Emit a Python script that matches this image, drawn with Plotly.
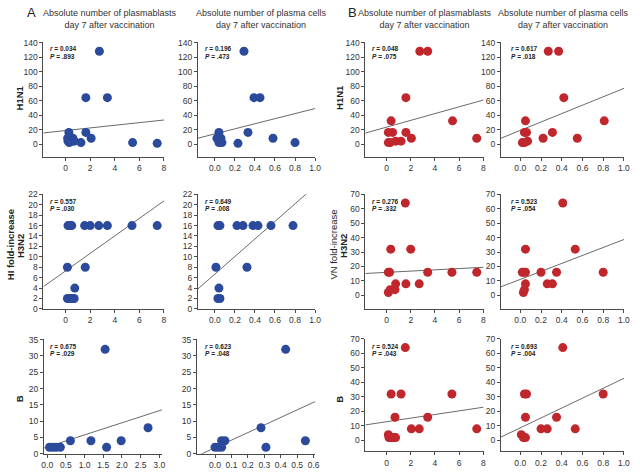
import plotly.graph_objects as go

W, H = 640, 473

# ---------------- DATA ----------------
col_titles = ["Absolute number of plasmablasts<br>day 7 after vaccination",
              "Absolute number of plasma cells<br>day 7 after vaccination",
              "Absolute number of plasmablasts<br>day 7 after vaccination",
              "Absolute number of plasma cells<br>day 7 after vaccination"]
panel_letters = ["A", "B"]

# tick values
ticks_plasmablasts = [0, 2, 4, 6, 8]
ticks_plasma_cells = [0.0, 0.2, 0.4, 0.6, 0.8, 1.0]
ticks_b_plasmablasts_hi = [0.0, 0.5, 1.0, 1.5, 2.0, 2.5, 3.0]
ticks_b_plasma_cells_hi = [0.0, 0.1, 0.2, 0.3, 0.4, 0.5, 0.6]
ticks_h1n1 = [0, 20, 40, 60, 80, 100, 120, 140]
ticks_h3n2_hi = [0, 2, 4, 6, 8, 10, 12, 14, 16, 18, 20, 22]
ticks_b_hi = [0, 5, 10, 15, 20, 25, 30, 35]
ticks_vn = [0, 10, 20, 30, 40, 50, 60, 70]

# A (HI) - plasmablasts
a_h1n1_pb_x = [2.75, 1.65, 3.4, 0.27, 1.65, 2.08, 0.17, 0.2, 0.3, 0.4, 0.5, 0.6, 0.7, 1.25, 5.45, 7.45]
a_h1n1_pb_y = [128, 64, 64, 16, 16, 8, 8, 4, 2, 8, 4, 8, 4, 2, 2, 1]
a_h3n2_pb_x = [0.2, 0.35, 0.5, 1.55, 2.0, 2.7, 3.4, 5.4, 7.45, 0.15, 1.6, 0.75, 0.15, 0.3, 0.45, 0.6, 0.7]
a_h3n2_pb_y = [16, 16, 16, 16, 16, 16, 16, 16, 16, 8, 8, 4, 2, 2, 2, 2, 2]
a_b_pb_x = [1.55, 2.7, 0.62, 1.17, 1.98, 1.59, 0.06, 0.15, 0.24, 0.35]
a_b_pb_y = [32, 8, 4, 4, 4, 2, 2, 2, 2, 2]
# A (HI) - plasma cells
a_h1n1_pc_x = [0.29, 0.39, 0.45, 0.04, 0.33, 0.58, 0.02, 0.06, 0.04, 0.07, 0.23, 0.8]
a_h1n1_pc_y = [128, 64, 64, 16, 16, 8, 8, 8, 2, 2, 1, 2]
a_h3n2_pc_x = [0.03, 0.05, 0.22, 0.28, 0.38, 0.43, 0.56, 0.78, 0.01, 0.32, 0.04, 0.03, 0.05]
a_h3n2_pc_y = [16, 16, 16, 16, 16, 16, 16, 16, 8, 8, 4, 2, 2]
a_b_pc_x = [0.43, 0.28, 0.55, 0.31, 0.04, 0.06, 0.0, 0.02, 0.04]
a_b_pc_y = [32, 8, 4, 2, 4, 4, 2, 2, 2]
# B (VN) - plasmablasts
b_h1n1_pb_x = [2.75, 3.4, 1.6, 0.38, 5.45, 0.15, 0.5, 1.6, 2.05, 7.45, 0.15, 0.3, 0.75, 1.2]
b_h1n1_pb_y = [128, 128, 64, 32, 32, 16, 16, 16, 8, 8, 2, 2, 4, 4]
b_h3n2_pb_x = [1.55, 0.35, 2.0, 0.15, 0.25, 3.4, 5.4, 7.45, 0.75, 1.6, 2.7, 0.7, 0.3, 0.15]
b_h3n2_pb_y = [64, 32, 32, 16, 16, 16, 16, 16, 8, 8, 8, 4, 4, 2]
b_b_pb_x = [1.55, 0.38, 1.2, 5.4, 0.7, 3.4, 2.05, 2.7, 7.45, 0.15, 0.2, 0.3, 0.45, 0.6, 0.75]
b_b_pb_y = [64, 32, 32, 32, 16, 16, 8, 8, 8, 4, 2, 2, 2, 2, 2]
# B (VN) - plasma cells
b_h1n1_pc_x = [0.27, 0.37, 0.42, 0.05, 0.04, 0.06, 0.31, 0.22, 0.55, 0.81, 0.02, 0.04, 0.07]
b_h1n1_pc_y = [128, 128, 64, 32, 16, 16, 16, 8, 8, 32, 2, 2, 4]
b_h3n2_pc_x = [0.41, 0.05, 0.53, 0.02, 0.03, 0.05, 0.2, 0.35, 0.8, 0.26, 0.31, 0.05, 0.04, 0.03]
b_h3n2_pc_y = [64, 32, 32, 16, 16, 16, 16, 16, 16, 8, 8, 8, 4, 2]
b_b_pc_x = [0.41, 0.04, 0.06, 0.8, 0.05, 0.35, 0.2, 0.26, 0.53, 0.01, 0.03, 0.05]
b_b_pc_y = [64, 32, 32, 32, 16, 16, 8, 8, 8, 4, 2, 2]

# regression lines (intercept, slope), row-major
fit_intercepts = [18.6, 14.0, 23.3, 18.8,
                  7.3, 6.7, 15.95, 11.1,
                  2.1, 1.86, 12.9, 8.7]
fit_slopes = [1.82, 35.0, 4.68, 58.0,
              1.68, 16.85, 0.44, 27.6,
              3.7, 23.2, 1.25, 34.1]
r_values = ["0.034", "0.196", "0.048", "0.617",
            "0.557", "0.649", "0.276", "0.523",
            "0.675", "0.623", "0.524", "0.693"]
p_values = [".893", ".473", ".075", ".018",
            ".030", ".008", ".332", ".054",
            ".029", ".048", ".043", ".004"]

panel_x = [a_h1n1_pb_x, a_h1n1_pc_x, b_h1n1_pb_x, b_h1n1_pc_x,
           a_h3n2_pb_x, a_h3n2_pc_x, b_h3n2_pb_x, b_h3n2_pc_x,
           a_b_pb_x, a_b_pc_x, b_b_pb_x, b_b_pc_x]
panel_y = [a_h1n1_pb_y, a_h1n1_pc_y, b_h1n1_pb_y, b_h1n1_pc_y,
           a_h3n2_pb_y, a_h3n2_pc_y, b_h3n2_pb_y, b_h3n2_pc_y,
           a_b_pb_y, a_b_pc_y, b_b_pb_y, b_b_pc_y]

# ---------------- LAYOUT / STYLE ----------------
BLUE = "#2c4a9c"
RED = "#c0272d"
AXC = "#4a4a4a"
TXT = "#333333"
FONT = "Arial, Liberation Sans, sans-serif"
TICKFS = 8.5

def px(x):
    return x / W

def py(y):
    return 1 - y / H

xcfg = {
    (0, 0): ([41, 163.5], [-1.8, 8.02], ticks_plasmablasts, ""),
    (0, 1): ([197.7, 316.7], [-0.17, 1.002], ticks_plasma_cells, ".1f"),
    (0, 2): ([367.5, 487.5], [-1.75, 8.02], ticks_plasmablasts, ""),
    (0, 3): ([505, 630], [-0.187, 1.002], ticks_plasma_cells, ".1f"),
    (2, 0): ([41.5, 161.5], [-0.09, 3.08], ticks_b_plasmablasts_hi, ".1f"),
    (2, 1): ([196.7, 316.7], [-0.11, 0.61], ticks_b_plasma_cells_hi, ".1f"),
}
ycfg = {
    0: {c: ([38.3, 155], [-17.5, 140.1], ticks_h1n1) for c in range(4)},
    1: {0: ([193.3, 310.5], [0, 22.02], ticks_h3n2_hi), 1: ([193.3, 310.5], [0, 22.02], ticks_h3n2_hi),
        2: ([193.3, 310.7], [-9.5, 70.05], ticks_vn), 3: ([193.3, 310.7], [-9.5, 70.05], ticks_vn)},
    2: {0: ([341.7, 458.5], [0, 35.03], ticks_b_hi), 1: ([341.7, 458.5], [0, 35.03], ticks_b_hi),
        2: ([341, 456], [-7.5, 70.05], ticks_vn), 3: ([341, 456], [-7.5, 70.05], ticks_vn)},
}
col_r_x = [45.5, 203, 372, 513.5]
row_r_y = [(44.3, 52.3), (200.7, 207.5), (349, 356)]

fig = go.Figure()
layout = dict(width=W, height=H, margin=dict(l=0, r=0, t=0, b=0),
              paper_bgcolor="white", plot_bgcolor="white", showlegend=False,
              font=dict(family=FONT, size=9, color=TXT))
annotations = []

for row in range(3):
    for col in range(4):
        i = row * 4 + col
        n = i + 1
        xa = "xaxis" if n == 1 else f"xaxis{n}"
        ya = "yaxis" if n == 1 else f"yaxis{n}"
        xr_ = "x" if n == 1 else f"x{n}"
        yr_ = "y" if n == 1 else f"y{n}"
        xd, xrng, xtv, xfmt = xcfg.get((row, col), xcfg[(0, col)])
        yd, yrng, ytv = ycfg[row][col]
        layout[xa] = dict(domain=[px(xd[0]), px(xd[1])], range=xrng, anchor=yr_,
                          tickmode="array", tickvals=xtv, tickformat=xfmt, tickangle=0,
                          showline=True, linecolor=AXC, linewidth=1, ticks="outside",
                          ticklen=3, tickcolor=AXC, showgrid=False, zeroline=False,
                          tickfont=dict(size=TICKFS, color=TXT, family=FONT))
        layout[ya] = dict(domain=[py(yd[1]), py(yd[0])], range=yrng, anchor=xr_,
                          tickmode="array", tickvals=ytv, tickangle=0, showline=True,
                          linecolor=AXC, linewidth=1, ticks="outside", ticklen=3,
                          tickcolor=AXC, showgrid=False, zeroline=False,
                          tickfont=dict(size=TICKFS, color=TXT, family=FONT))
        color = BLUE if col < 2 else RED
        lx = [xrng[0], xrng[1]]
        ly = [fit_intercepts[i] + fit_slopes[i] * v for v in lx]
        fig.add_trace(go.Scatter(x=lx, y=ly, mode="lines", xaxis=xr_, yaxis=yr_,
                                 line=dict(color="#6a6a6a", width=1),
                                 hoverinfo="skip"))
        fig.add_trace(go.Scatter(x=panel_x[i], y=panel_y[i], mode="markers",
                                 xaxis=xr_, yaxis=yr_, cliponaxis=False,
                                 marker=dict(color=color, size=9, line=dict(width=0))))
        ry, pyy = row_r_y[row]
        annotations.append(dict(x=px(col_r_x[col]), y=py(ry), xref="paper", yref="paper",
                                text=f"<b><i>r</i> = {r_values[i]}</b>", showarrow=False,
                                xanchor="left", yanchor="middle",
                                font=dict(size=6.5, color="#222", family=FONT)))
        annotations.append(dict(x=px(col_r_x[col]), y=py(pyy), xref="paper", yref="paper",
                                text=f"<b><i>P</i> = {p_values[i]}</b>", showarrow=False,
                                xanchor="left", yanchor="middle",
                                font=dict(size=6.5, color="#222", family=FONT)))

title_cx = [108.7, 261.7, 428, 569]
for c, t in enumerate(col_titles):
    annotations.append(dict(x=px(title_cx[c]), y=py(14), xref="paper", yref="paper",
                            text=t, showarrow=False, xanchor="center", yanchor="middle",
                            font=dict(size=9, color=TXT, family=FONT)))
for k, (lx_, ly_) in enumerate([(29, 8), (354, 8)]):
    annotations.append(dict(x=px(lx_), y=py(ly_), xref="paper", yref="paper",
                            text=panel_letters[k], showarrow=False, xanchor="center",
                            yanchor="middle", font=dict(size=13, color="#222", family=FONT)))

row_labels = [
    (17, 94.7, "<b>H1N1</b>"), (341, 94.7, "<b>H1N1</b>"),
    (7.5, 245, "<b>HI fold-increase</b>"), (18.5, 246, "<b>H3N2</b>"),
    (335.5, 245, "VN fold-increase"), (346, 246, "<b>H3N2</b>"),
    (17, 402, "<b>B</b>"), (341, 403, "<b>B</b>"),
]
for x_, y_, t in row_labels:
    annotations.append(dict(x=px(x_), y=py(y_), xref="paper", yref="paper", text=t,
                            showarrow=False, textangle=-90, xanchor="center",
                            yanchor="middle", font=dict(size=9.5, color="#222", family=FONT)))

layout["annotations"] = annotations
fig.update_layout(**layout)
fig.write_html("out.html", config={"displayModeBar": False},
               post_script="document.body.style.margin='0';document.body.style.padding='0';")
